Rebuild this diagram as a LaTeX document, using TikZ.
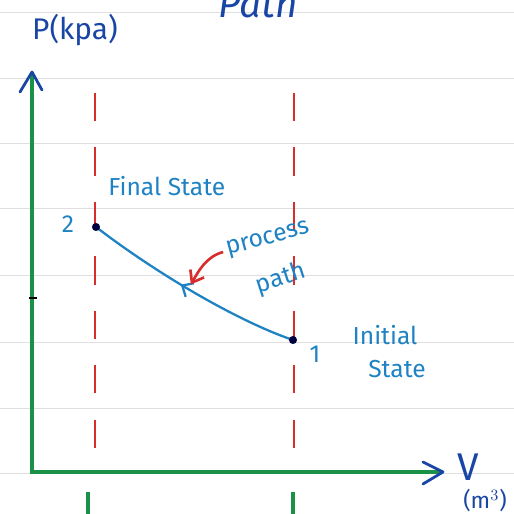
\documentclass[tikz,border=0pt]{standalone}
\usepackage{fontspec}
\setsansfont{Fira Sans}
\usetikzlibrary{arrows.meta,decorations.markings}
\definecolor{ink}{RGB}{30,130,195}
\definecolor{darkink}{RGB}{25,70,165}
\definecolor{axisgreen}{RGB}{25,145,70}
\definecolor{redpen}{RGB}{215,45,45}

\begin{document}
\begin{tikzpicture}[x=0.02cm, y=-0.02cm, every node/.style={font=\sffamily\fontsize{14}{16}\selectfont, text=ink, inner sep=0pt},
	rule/.style={gray!25, line width=0.5pt}, guide/.style={redpen, line width=1.2pt, dash pattern=on 16pt off 15pt},
	axis/.style={axisgreen, line width=1.8pt}, head/.style={darkink, line width=1.6pt, line cap=round, line join=round}]
	\useasboundingbox (0,0) rectangle (514,514);
	\foreach \y in {12,78,143,208,275,342,408,473} {\draw[rule] (0,\y) -- (514,\y);}
	\coordinate (O) at (32,472); \coordinate (ytop) at (32,72); \coordinate (xend) at (443,472);
	\coordinate (p2) at (96,227); \coordinate (p1) at (293,340);
	% red guide lines and ticks
	\draw[guide] (95,93) -- (95,468); \draw[guide] (294,93) -- (294,468);
	\foreach \x in {88,293} {\draw[axis] (\x,492) -- (\x,514);}
	% axes
	\draw[axis] (ytop) -- (O) -- (xend);
	\draw[head] (ytop) ++(-12,20) -- (ytop) -- ++(10,18);
	\draw[head] (xend) ++(-20,-10) -- (xend) -- ++(-20,12);
	\draw[black, line width=1.6pt] (29,298) -- (37,298);
	% process path
	\draw[ink, line width=1.3pt, postaction={decorate}, decoration={markings, mark=at position 0.45 with {\arrowreversed[line width=1.3pt]{Straight Barb[length=5pt, width=9pt]}}}]
		(p2) .. controls (160,276) and (240,322) .. (p1) coordinate[pos=0.45] (onpath);
	\fill[black!75!blue] (p2) circle (2.3pt); \fill[black!75!blue] (p1) circle (2.3pt);
	\node (two) at (68,224) {2};
	\node (one) at (315,354) {1};
	\node[anchor=west] (final) at (108,186) {Final State};
	\node (initial) at (385,335) {Initial};
	\node (state) at (397,369) {State};
	\node[rotate=15] (process) at (268,240) {process};
	\node[rotate=18] (path) at (281,279) {path};
	\draw[redpen, line width=1.5pt, -{Straight Barb[length=6pt, width=9pt]}, shorten <=2pt, shorten >=3pt] (process.west) to[out=195, in=60] (onpath);
	\node[darkink, font=\sffamily\fontsize{17}{19}\selectfont] (pres) at (75,30) {P(kpa)};
	\node[darkink, font=\sffamily\fontsize{22}{24}\selectfont] (vol) at (468,467) {V};
	\node[darkink, font=\sffamily\fontsize{13}{15}\selectfont] (unit) at (485,500) {(m$^3$)};
	\node[darkink, font=\sffamily\itshape\fontsize{22}{24}\selectfont] (title) at (258,3) {Path};
\end{tikzpicture}
\end{document}
